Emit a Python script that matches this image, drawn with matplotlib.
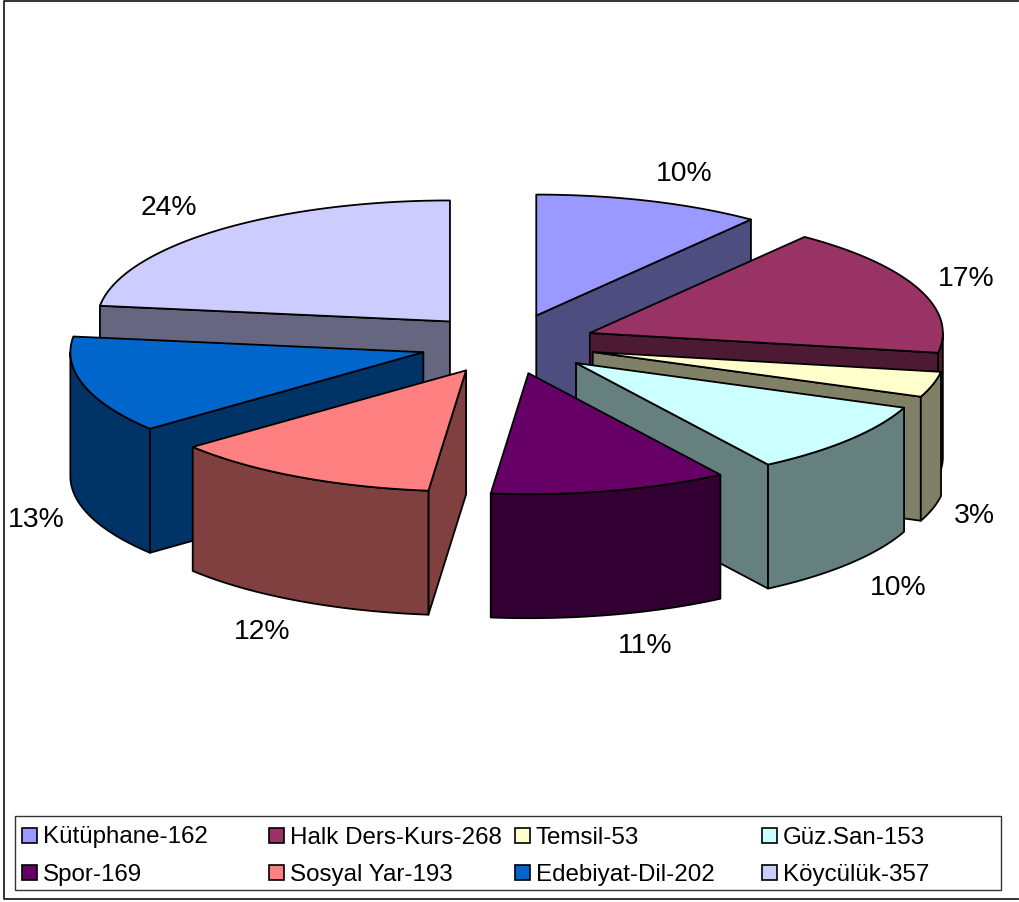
import numpy as np
import matplotlib
matplotlib.use('Agg')
import matplotlib.pyplot as plt
from matplotlib.patches import Rectangle

plt.rcParams['font.family'] = ['Liberation Sans', 'DejaVu Sans']

names = ['Kütüphane', 'Halk Ders-Kurs', 'Temsil', 'Güz.San', 'Spor', 'Sosyal Yar', 'Edebiyat-Dil', 'Köycülük']
values = [162, 268, 53, 153, 169, 193, 202, 357]
# printed as in the picture, 357 alone would round to 23%
percents = [10, 17, 3, 10, 11, 12, 13, 24]
colors = ['#9999FF', '#993366', '#FFFFCC', '#CCFFFF', '#660066', '#FF8080', '#0066CC', '#CCCCFF']
side_colors = ['#4D4D80', '#4D1A33', '#808066', '#668080', '#330033', '#804040', '#003366', '#666680']

# geometry of the fake 3d pie, in pixels of the figure
CX, CY = 508, 344
RX, RY = 353, 121
EX, EY = 88, 30  # explosion
DEPTH = 124
LW = 1.3

# how far each % label sits from the rim of its slice
label_offset = [(35, -27), (48, -10), (42, 8), (49, 24), (35, 31), (-36, 31), (-48, 11), (-48, -23)]

# back slices first, the front ones paint over them
draw_order = [7, 0, 1, 2, 3, 6, 5, 4]

fig = plt.figure(figsize=(10.19, 9.02), dpi=100)
ax = fig.add_axes([0, 0, 1, 1])
ax.set_xlim(0, 1019)
ax.set_ylim(902, 0)
ax.axis('off')

total = sum(values)
edges = np.cumsum([0] + values) / total * 2 * np.pi


def rim(apex, t):
    return apex[0] + RX * np.sin(t), apex[1] - RY * np.cos(t)


def wall(xs, ys, color, z):
    # extrude a top edge down by the depth of the pie
    xs = np.asarray(xs)
    ys = np.asarray(ys)
    px = np.concatenate([xs, xs[::-1]])
    py = np.concatenate([ys, ys[::-1] + DEPTH])
    ax.fill(px, py, facecolor=color, edgecolor='black', lw=LW, joinstyle='round', zorder=z)


for z, i in enumerate(draw_order):
    a0, a1 = edges[i], edges[i + 1]
    mid = (a0 + a1) / 2
    apex = (CX + EX * np.sin(mid), CY - EY * np.cos(mid))
    zz = z * 10

    # only walls that look downward can be seen
    if np.sin(a0) < 0:
        x, y = rim(apex, a0)
        wall([apex[0], x], [apex[1], y], side_colors[i], zz + 1)
    if np.sin(a1) > 0:
        x, y = rim(apex, a1)
        wall([apex[0], x], [apex[1], y], side_colors[i], zz + 1)
    lo, hi = max(a0, np.pi / 2), min(a1, 3 * np.pi / 2)
    if lo < hi:
        t = np.linspace(lo, hi, 80)
        x, y = rim(apex, t)
        wall(x, y, side_colors[i], zz + 2)

    t = np.linspace(a0, a1, 120)
    x, y = rim(apex, t)
    ax.fill(np.r_[apex[0], x], np.r_[apex[1], y], facecolor=colors[i], edgecolor='black',
            lw=LW, joinstyle='round', zorder=zz + 3)

    # percent label
    lx, ly = rim(apex, mid)
    if np.cos(mid) < 0:
        ly += DEPTH
    ax.text(lx + label_offset[i][0], ly + label_offset[i][1], f'{percents[i]}%',
            fontsize=20.4, ha='center', va='center', color='black', zorder=200)

# outer frame
ax.plot([1018.5, 4.5, 4.5, 1018.5], [0.5, 0.5, 899, 899], color='#222222', lw=1.3, zorder=300)

# legend box
ax.add_patch(Rectangle((15, 816), 986, 74, facecolor='white', edgecolor='#333333', lw=1.0, zorder=300))
col_x = [22, 269, 515, 762]
row_y = [835, 872]
for i, name in enumerate(names):
    x = col_x[i % 4]
    y = row_y[i // 4]
    ax.add_patch(Rectangle((x, y - 7), 15, 15, facecolor=colors[i], edgecolor='black', lw=1.2, zorder=301))
    ax.text(x + 21, y, f'{name}-{values[i]}', fontsize=17.4, ha='left', va='center_baseline',
            color='black', zorder=301)

fig.savefig('out.png', dpi=100)
